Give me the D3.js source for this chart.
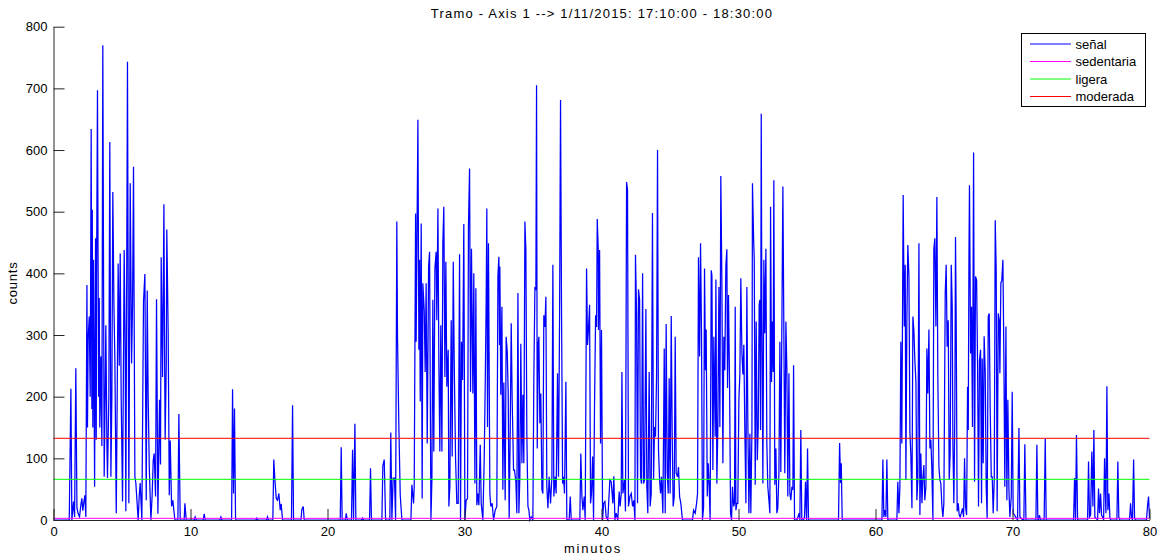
<!DOCTYPE html>
<html>
<head>
<meta charset="utf-8">
<script src="https://cdn.jsdelivr.net/npm/d3@7"></script>
<style>
  body { margin: 0; background: #ffffff; }
  svg { display: block; font-family: "Liberation Sans", Arial, Helvetica, sans-serif; }
</style>
</head>
<body>
<svg id="chart" width="1166" height="555"></svg>
<script>
// ---- Datos ----
const titulo = "Tramo - Axis 1 --> 1/11/2015: 17:10:00 - 18:30:00";
const etiquetaX = "minutos";
const etiquetaY = "counts";
const xTicks = [0, 10, 20, 30, 40, 50, 60, 70, 80];
const yTicks = [0, 100, 200, 300, 400, 500, 600, 700, 800];

const leyendaNombres = ["señal", "sedentaria", "ligera", "moderada"];
const leyendaColores = ["#0000ff", "#ff00ff", "#00ff00", "#ff0000"];

// umbrales de actividad (counts): sedentaria, ligera, moderada
const umbralNombres = ["sedentaria", "ligera", "moderada"];
const umbralValores = [2.7, 66, 132.5];

// señal: [minuto, counts]
const senal = [
  [0,0],[1.15,0],[1.27,213],[1.34,0],[1.46,30],[1.54,5],[1.63,246],[1.71,20],[1.80,10],[1.90,5],
  [2.00,25],[2.07,35],[2.14,15],[2.22,30],[2.29,40],[2.36,5],[2.44,381],[2.48,150],[2.53,295],[2.61,330],
  [2.68,200],[2.75,634],[2.80,180],[2.83,503],[2.87,150],[2.92,422],[3.00,54],[3.07,457],[3.12,130],[3.14,378],
  [3.21,697],[3.29,200],[3.34,360],[3.38,150],[3.46,265],[3.53,120],[3.60,770],[3.70,70],[3.77,200],[3.82,316],
  [3.90,120],[3.94,68],[4.04,200],[4.11,613],[4.19,70],[4.26,200],[4.33,532],[4.41,350],[4.48,260],[4.58,11],
  [4.65,200],[4.72,416],[4.80,250],[4.87,432],[4.94,200],[5.04,30],[5.16,438],[5.23,280],[5.28,14],[5.40,743],
  [5.50,27],[5.60,546],[5.70,254],[5.77,350],[5.84,573],[5.94,70],[6.01,60],[6.09,32],[6.18,0],[6.26,40],
  [6.33,60],[6.45,0],[6.57,354],[6.67,399],[6.77,32],[6.84,372],[6.91,200],[6.99,86],[7.11,0],[7.20,40],
  [7.28,97],[7.35,108],[7.45,38],[7.52,358],[7.62,10],[7.74,195],[7.81,90],[7.86,426],[7.96,232],[8.06,512],
  [8.10,300],[8.15,130],[8.23,250],[8.27,471],[8.37,305],[8.45,40],[8.52,129],[8.62,22],[8.71,32],[8.86,0],
  [9.08,0],[9.15,172],[9.25,0],[9.54,0],[9.59,27],[9.69,0],[10.27,0],[10.34,5],[10.42,0],
  [10.93,0],[11.00,10],[11.07,0],[12.14,0],[12.22,5],[12.29,0],
  [13.00,0],[13.07,212],[13.14,43],[13.21,181],[13.29,0],[14.77,0],[14.84,3],[14.91,0],[15.55,0],[15.62,5],[15.69,0],
  [16.01,0],[16.08,98],[16.15,68],[16.26,35],[16.35,32],[16.45,43],[16.55,16],[16.62,26],[16.72,0],
  [17.37,0],[17.45,186],[17.52,0],[18.06,0],[18.13,17],[18.23,22],[18.30,0],
  [20.93,0],[21.00,118],[21.07,0],[21.30,0],[21.37,11],[21.44,0],[21.75,0],[21.83,114],[21.90,0],[22.00,156],[22.07,0],
  [22.49,0],[22.56,3],[22.63,0],[23.07,0],[23.14,84],[23.21,0],[23.97,0],[24.04,88],[24.14,98],[24.24,0],
  [24.55,0],[24.62,142],[24.70,0],[24.79,68],[24.89,68],[24.97,0],
  [25.06,484],[25.11,297],[25.21,150],[25.31,40],[25.43,0],[26.09,0],[26.16,57],[26.28,27],[26.33,54],[26.43,497],
  [26.47,289],[26.60,649],[26.67,276],[26.72,422],[26.77,192],[26.84,481],[26.91,35],[26.96,384],[27.06,340],[27.13,240],
  [27.20,384],[27.28,124],[27.38,411],[27.45,435],[27.55,0],[27.62,65],[27.69,357],[27.76,111],[27.84,408],[27.93,435],
  [27.98,324],[28.06,505],[28.13,251],[28.20,111],[28.27,316],[28.35,111],[28.42,449],[28.49,508],[28.57,232],[28.64,419],
  [28.71,216],[28.81,276],[28.86,22],[28.93,54],[29.03,324],[29.10,103],[29.18,419],[29.25,254],[29.35,97],[29.44,27],
  [29.54,27],[29.64,431],[29.71,0],[29.78,289],[29.86,227],[29.95,480],[30.03,0],[30.12,32],[30.22,35],[30.29,477],
  [30.37,570],[30.44,208],[30.51,440],[30.61,205],[30.68,400],[30.76,59],[30.83,376],[30.90,24],[30.98,43],[31.05,24],
  [31.15,122],[31.22,27],[31.34,0],[31.44,100],[31.51,214],[31.58,351],[31.63,505],[31.68,151],[31.75,449],[31.85,43],
  [31.92,22],[32.02,27],[32.12,0],[32.24,16],[32.36,22],[32.44,396],[32.51,427],[32.56,284],
  [32.58,411],[32.65,203],[32.73,346],[32.80,49],[32.87,223],[32.97,32],[33.04,297],[33.12,273],[33.19,205],[33.26,3],
  [33.34,151],[33.41,319],[33.48,195],[33.58,81],[33.65,81],[33.75,62],[33.82,11],[33.90,368],[33.97,11],[34.04,70],
  [34.11,286],[34.19,92],[34.26,203],[34.33,92],[34.41,484],[34.48,438],[34.55,140],[34.63,22],[34.70,16],[34.77,0],
  [34.87,5],[34.99,0],[35.06,227],[35.14,378],[35.21,373],[35.26,705],[35.31,116],[35.38,286],[35.43,297],[35.50,157],
  [35.57,205],[35.65,49],[35.72,43],[35.79,332],[35.87,313],[35.94,362],[36.01,54],[36.09,19],[36.18,70],[36.28,27],
  [36.38,70],[36.45,414],[36.52,38],[36.62,70],[36.69,43],[36.79,238],[36.86,70],[36.94,330],[37.01,681],[37.08,351],
  [37.16,59],[37.23,70],[37.30,43],[37.40,224],[37.47,0],[37.64,0],[37.72,38],[37.79,0],
  [38.42,0],[38.49,108],[38.57,38],[38.64,16],[38.74,38],[38.81,0],[38.91,408],[38.98,284],[39.05,309],[39.13,349],
  [39.20,27],[39.27,43],[39.35,103],[39.42,0],[39.49,184],[39.57,332],[39.64,313],[39.69,488],[39.76,440],
  [39.78,308],[39.86,438],[39.93,124],[40.00,308],[40.08,0],[40.15,27],[40.25,30],[40.34,5],[40.46,0],[40.61,65],
  [40.71,62],[40.83,27],[40.90,71],[40.98,0],[41.07,11],[41.19,0],[41.29,46],[41.36,22],[41.44,43],[41.49,240],
  [41.56,43],[41.68,65],[41.75,14],[41.83,548],[41.90,535],[41.97,22],[42.07,38],[42.17,43],[42.27,22],[42.36,32],
  [42.44,0],[42.48,430],[42.56,335],[42.63,27],[42.70,374],[42.78,357],[42.85,70],[42.92,59],[43.00,400],[43.07,59],
  [43.14,65],[43.24,342],[43.31,54],[43.38,11],[43.48,240],[43.55,22],[43.63,43],[43.72,498],[43.80,65],[43.87,151],
  [43.94,135],[44.02,234],[44.09,600],[44.16,114],[44.24,65],[44.31,43],[44.38,70],[44.48,11],[44.58,278],[44.65,11],
  [44.72,318],[44.80,76],[44.87,43],[44.94,230],[45.01,43],[45.09,331],[45.16,140],[45.23,22],[45.31,38],[45.38,297],
  [45.45,76],[45.55,70],[45.62,86],[45.70,38],[45.79,27],[45.91,0],[46.64,0],[46.72,16],[46.84,11],[46.94,27],[47.01,43],
  [47.08,426],[47.16,265],[47.23,449],[47.30,300],[47.37,0],[47.45,20],[47.52,408],[47.59,243],[47.64,309],[47.72,38],
  [47.79,92],[47.86,54],[47.93,0],[48.01,405],[48.06,396],[48.13,81],[48.20,297],[48.30,135],[48.35,390],[48.42,59],
  [48.49,146],[48.57,378],[48.64,151],[48.71,558],[48.79,378],[48.86,92],[48.93,297],[49.00,243],[49.08,414],[49.15,439],
  [49.20,214],[49.27,365],[49.35,214],[49.42,11],[49.49,0],[49.56,54],[49.64,22],[49.71,27],[49.76,346],[49.81,16],
  [49.88,27],[49.95,27],[50.03,197],[50.10,236],[50.17,392],[50.25,270],[50.32,236],[50.39,284],[50.46,151],[50.54,27],
  [50.61,378],[50.68,162],[50.76,11],[50.83,140],[50.90,11],[50.98,146],[51.02,546],[51.10,459],[51.15,422],[51.22,57],
  [51.29,322],[51.37,97],[51.44,151],[51.51,349],[51.56,357],[51.61,146],[51.66,659],[51.70,368],[51.78,59],[51.85,422],
  [51.92,303],[52.00,440],[52.07,124],[52.14,54],[52.22,32],[52.29,11],[52.34,508],[52.41,224],[52.48,322],[52.53,240],
  [52.58,551],[52.65,57],[52.73,116],[52.80,11],[52.87,19],[52.95,76],[53.02,289],[53.09,78],[53.16,297],[53.24,541],
  [53.31,308],[53.38,76],[53.46,322],[53.53,246],[53.60,38],[53.68,238],[53.75,43],[53.82,32],[53.90,54],[53.97,49],
  [54.02,251],[54.09,0],[54.26,0],[54.43,11],[54.48,0],[54.55,146],[54.62,0],[54.75,0],[54.82,5],[54.89,62],[54.97,0],
  [55.04,116],[55.11,0],
  [57.30,0],[57.38,125],[57.45,60],[57.50,92],[57.57,0],
  [60.47,0],[60.54,98],[60.61,5],[60.68,16],[60.76,5],[60.83,98],[60.90,0],
  [61.56,0],[61.63,62],[61.71,11],[61.78,54],[61.85,289],[61.92,124],[62.02,527],[62.10,314],[62.17,414],[62.22,65],
  [62.29,324],[62.36,446],[62.44,395],[62.51,143],[62.58,105],[62.66,19],[62.73,330],[62.80,308],[62.87,261],[62.95,224],
  [63.02,32],[63.09,65],[63.17,449],[63.24,8],[63.31,108],[63.39,27],[63.46,68],[63.53,89],[63.60,32],[63.68,54],
  [63.75,278],[63.82,205],[63.90,309],[63.97,116],[64.04,130],[64.11,86],[64.19,0],[64.26,440],[64.33,457],[64.41,314],
  [64.48,524],[64.55,232],[64.63,86],[64.70,65],[64.77,59],[64.85,22],[64.92,5],[64.99,27],[65.09,368],[65.16,414],
  [65.23,281],[65.31,324],[65.38,65],[65.45,108],[65.53,414],[65.60,346],[65.65,122],[65.72,27],[65.79,173],[65.84,459],
  [65.89,324],[65.96,14],[66.04,27],[66.11,8],[66.18,5],[66.26,11],[66.35,19],[66.43,5],[66.50,100],[66.57,22],
  [66.65,8],[66.72,216],[66.77,146],[66.82,422],[66.86,543],[66.94,270],[67.01,346],[67.08,151],[67.16,596],[67.23,62],
  [67.30,395],[67.38,389],[67.45,254],[67.52,22],[67.59,259],[67.67,276],[67.74,27],[67.79,262],[67.86,92],[67.93,298],
  [68.01,238],[68.08,54],[68.15,3],[68.23,330],[68.30,335],[68.37,184],[68.45,70],[68.52,70],[68.59,11],[68.67,68],
  [68.74,486],[68.81,405],[68.88,14],[68.96,335],[69.03,324],[69.08,238],[69.15,384],[69.22,389],[69.30,422],[69.37,265],
  [69.44,54],[69.52,314],[69.59,32],[69.66,195],[69.74,49],[69.81,5],[69.91,38],[69.98,208],[70.05,11],[70.15,8],
  [70.22,5],[70.37,0],[70.47,149],[70.54,5],[70.76,0],[70.83,0],[70.90,123],[70.98,0],
  [71.71,0],[71.78,122],[71.85,0],[71.90,0],[71.97,8],[72.04,0],[72.31,0],[72.39,132],[72.46,0],
  [74.46,0],[74.53,68],[74.60,0],[74.67,138],[74.75,0],
  [75.48,0],[75.55,95],[75.62,5],[75.70,8],[75.79,111],[75.87,22],[75.94,146],[76.01,5],[76.21,0],[76.28,51],
  [76.35,11],[76.43,43],[76.50,8],[76.57,5],[76.65,0],[76.72,100],[76.82,11],[76.89,217],[76.96,16],[77.04,43],
  [77.11,3],[77.18,0],[77.62,0],[77.69,95],[77.76,5],[77.83,0],
  [78.54,0],[78.62,27],[78.69,3],[78.76,0],[78.84,98],[78.91,3],[78.98,0],
  [79.78,0],[79.86,24],[79.93,38],[80.00,3]
];

// ---- Dibujo ----
const svg = d3.select("#chart");
const margen = { left: 53.5, right: 1149.5, top: 26.7, bottom: 520 };

const x = d3.scaleLinear().domain([0, 80]).range([margen.left, margen.right]);
const y = d3.scaleLinear().domain([0, 800]).range([margen.bottom, margen.top]);

const colorEje = "#262626";

// señal
svg.append("path")
  .datum(senal)
  .attr("fill", "none")
  .attr("stroke", leyendaColores[0])
  .attr("stroke-width", 1.25)
  .attr("stroke-linejoin", "miter")
  .attr("d", d3.line().x(d => x(d[0])).y(d => y(d[1])));

// umbrales horizontales
umbralValores.forEach((v, i) => {
  svg.append("line")
    .attr("x1", x(0)).attr("x2", x(80))
    .attr("y1", y(v)).attr("y2", y(v))
    .attr("stroke", leyendaColores[i + 1])
    .attr("stroke-width", 1);
});

// ejes con marcas hacia dentro
const ejeX = svg.append("g")
  .attr("transform", `translate(0,${margen.bottom})`)
  .call(d3.axisBottom(x).tickValues(xTicks).tickSizeInner(-11).tickSizeOuter(0).tickPadding(7).tickFormat(d3.format("d")));
const ejeY = svg.append("g")
  .attr("transform", `translate(${margen.left},0)`)
  .call(d3.axisLeft(y).tickValues(yTicks).tickSizeInner(-11).tickSizeOuter(0).tickPadding(6).tickFormat(d3.format("d")));

[ejeX, ejeY].forEach(g => {
  g.select(".domain").attr("stroke", colorEje);
  g.selectAll(".tick line").attr("stroke", colorEje);
  g.selectAll(".tick text")
    .attr("fill", "#000")
    .style("font-size", "13px")
    .style("font-family", "'Liberation Sans', Arial, sans-serif");
});

// textos
svg.append("text")
  .attr("x", 602)
  .attr("y", 18)
  .attr("text-anchor", "middle")
  .style("font-size", "13px")
  .style("letter-spacing", "1.2px")
  .text(titulo);

svg.append("text")
  .attr("x", 593)
  .attr("y", 553)
  .attr("text-anchor", "middle")
  .style("font-size", "13px")
  .style("letter-spacing", "1.8px")
  .text(etiquetaX);

svg.append("text")
  .attr("transform", "translate(17,283) rotate(-90)")
  .attr("text-anchor", "middle")
  .style("font-size", "13px")
  .style("letter-spacing", "0.8px")
  .text(etiquetaY);

// leyenda
const leyenda = svg.append("g").attr("transform", "translate(1021.5,33.5)");
leyenda.append("rect")
  .attr("width", 124).attr("height", 73)
  .attr("fill", "#ffffff").attr("stroke", "#000").attr("stroke-width", 1);
leyendaNombres.forEach((nombre, i) => {
  const fila = 10.5 + i * 17.5;
  leyenda.append("line")
    .attr("x1", 8.5).attr("x2", 49.5)
    .attr("y1", fila).attr("y2", fila)
    .attr("stroke", leyendaColores[i]).attr("stroke-width", 1);
  leyenda.append("text")
    .attr("x", 54).attr("y", fila + 4.5)
    .style("font-size", "13px")
    .text(nombre);
});
</script>
</body>
</html>
